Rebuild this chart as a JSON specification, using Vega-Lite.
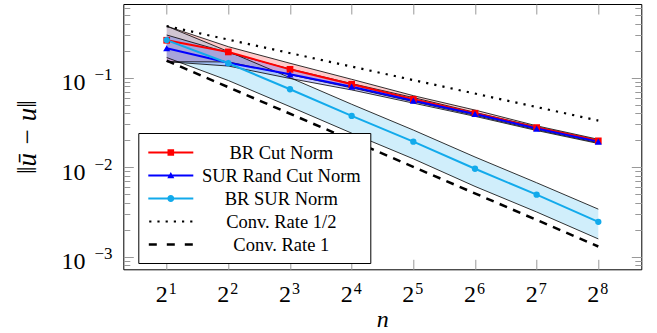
{
  "$schema": "https://vega.github.io/schema/vega-lite/v6.json",
  "width": 518,
  "height": 265.3,
  "autosize": "none",
  "padding": {"left": 123.3, "top": 4, "right": 15.7, "bottom": 63.7},
  "background": "white",
  "config": {"view": {"stroke": "black", "strokeWidth": 1}},
  "datasets": {
    "main": [
      {"s": "BR Cut Norm", "n": 2, "v": 0.262, "lo": 0.151, "hi": 0.377},
      {"s": "BR Cut Norm", "n": 4, "v": 0.194, "lo": 0.150, "hi": 0.222},
      {"s": "BR Cut Norm", "n": 8, "v": 0.124, "lo": 0.108, "hi": 0.145},
      {"s": "BR Cut Norm", "n": 16, "v": 0.0844, "lo": 0.077, "hi": 0.096},
      {"s": "BR Cut Norm", "n": 32, "v": 0.0574, "lo": 0.054, "hi": 0.063},
      {"s": "BR Cut Norm", "n": 64, "v": 0.0401, "lo": 0.038, "hi": 0.0435},
      {"s": "BR Cut Norm", "n": 128, "v": 0.0277, "lo": 0.0263, "hi": 0.029},
      {"s": "BR Cut Norm", "n": 256, "v": 0.0197, "lo": 0.0188, "hi": 0.0205},
      {"s": "SUR Rand Cut Norm", "n": 2, "v": 0.213, "lo": 0.151, "hi": 0.30},
      {"s": "SUR Rand Cut Norm", "n": 4, "v": 0.147, "lo": 0.135, "hi": 0.19},
      {"s": "SUR Rand Cut Norm", "n": 8, "v": 0.109, "lo": 0.098, "hi": 0.125},
      {"s": "SUR Rand Cut Norm", "n": 16, "v": 0.0794, "lo": 0.073, "hi": 0.086},
      {"s": "SUR Rand Cut Norm", "n": 32, "v": 0.0554, "lo": 0.052, "hi": 0.060},
      {"s": "SUR Rand Cut Norm", "n": 64, "v": 0.0393, "lo": 0.037, "hi": 0.041},
      {"s": "SUR Rand Cut Norm", "n": 128, "v": 0.0270, "lo": 0.0257, "hi": 0.0282},
      {"s": "SUR Rand Cut Norm", "n": 256, "v": 0.0193, "lo": 0.0184, "hi": 0.0200},
      {"s": "BR SUR Norm", "n": 2, "v": 0.263, "lo": 0.168, "hi": 0.377},
      {"s": "BR SUR Norm", "n": 4, "v": 0.145, "lo": 0.093, "hi": 0.196},
      {"s": "BR SUR Norm", "n": 8, "v": 0.0743, "lo": 0.0475, "hi": 0.100},
      {"s": "BR SUR Norm", "n": 16, "v": 0.0374, "lo": 0.024, "hi": 0.0505},
      {"s": "BR SUR Norm", "n": 32, "v": 0.0193, "lo": 0.0124, "hi": 0.026},
      {"s": "BR SUR Norm", "n": 64, "v": 0.0096, "lo": 0.0061, "hi": 0.013},
      {"s": "BR SUR Norm", "n": 128, "v": 0.00493, "lo": 0.00316, "hi": 0.0067},
      {"s": "BR SUR Norm", "n": 256, "v": 0.00245, "lo": 0.00158, "hi": 0.0034}
    ],
    "rates": [
      {"r": "half", "n": 2, "v": 0.377},
      {"r": "half", "n": 256, "v": 0.0332},
      {"r": "one", "n": 2, "v": 0.155},
      {"r": "one", "n": 256, "v": 0.0013}
    ],
    "leg": [
      {"s": "BR Cut Norm"},
      {"s": "SUR Rand Cut Norm"},
      {"s": "BR SUR Norm"},
      {"s": "Conv. Rate 1/2"},
      {"s": "Conv. Rate 1"}
    ]
  },
  "data": {"name": "main"},
  "resolve": {"axis": {"x": "independent", "y": "independent"}},
  "layer": [
    {
      "mark": {"type": "area", "fillOpacity": 0.2},
      "encoding": {
        "x": {
          "field": "n", "type": "quantitative",
          "scale": {"type": "log", "base": 2, "domain": [1.2279, 415.1], "nice": false, "zero": false},
          "axis": {
            "orient": "bottom",
            "values": [2, 4, 8, 16, 32, 64, 128, 256],
            "labelExpr": "'2'",
            "domain": false, "grid": false,
            "tickSize": -10, "tickColor": "#999999", "tickWidth": 1,
            "labelFont": "Liberation Serif", "labelFontSize": 24, "labelColor": "black",
            "labelAlign": "right", "labelOffset": 0.5,
            "labelBaseline": "alphabetic", "labelPadding": 42.4, "labelOverlap": false, "labelFlush": false,
            "title": "n", "titleFont": "Liberation Serif", "titleFontSize": 24, "titleFontStyle": "italic",
            "titleFontWeight": "normal", "titleColor": "black", "titleBaseline": "alphabetic", "titleY": 57
          }
        },
        "y": {
          "field": "lo", "type": "quantitative",
          "scale": {"type": "log", "domain": [0.000723, 0.666], "nice": false, "zero": false},
          "axis": {
            "orient": "left",
            "values": [0.0008, 0.0009, 0.001, 0.002, 0.003, 0.004, 0.005, 0.006, 0.007, 0.008, 0.009, 0.01, 0.02, 0.03, 0.04, 0.05, 0.06, 0.07, 0.08, 0.09, 0.1, 0.2, 0.3, 0.4, 0.5, 0.6],
            "labelExpr": "abs(log(datum.value)/LN10 - round(log(datum.value)/LN10)) < 0.001 ? '10' : ''",
            "domain": false, "grid": false,
            "tickSize": {"condition": {"test": "abs(log(datum.value)/LN10 - round(log(datum.value)/LN10)) < 0.001", "value": -10}, "value": -6.5},
            "tickColor": "#999999", "tickWidth": 1,
            "labelFont": "Liberation Serif", "labelFontSize": 24, "labelColor": "black", "labelAlign": "right",
            "labelBaseline": "alphabetic", "labelOffset": 12.3, "labelPadding": 48.3, "labelOverlap": false, "labelFlush": false,
            "title": "‖ū − u‖", "titleFont": "Liberation Serif", "titleFontSize": 27, "titleFontStyle": "italic",
            "titleFontWeight": "normal", "titleColor": "black", "titleX": -96, "titleBaseline": "middle", "titleAngle": -90
          }
        },
        "y2": {"field": "hi"},
        "fill": {
          "field": "s", "type": "nominal",
          "scale": {"domain": ["BR Cut Norm", "SUR Rand Cut Norm", "BR SUR Norm"], "range": ["#ff0000", "#0000ff", "#12aaeb"]},
          "legend": null
        }
      }
    },
    {
      "mark": {"type": "line", "color": "black", "strokeWidth": 0.8},
      "encoding": {
        "x": {
          "field": "n", "type": "quantitative",
          "axis": {
            "orient": "top", "values": [2, 4, 8, 16, 32, 64, 128, 256], "labels": false,
            "domain": false, "grid": false, "tickSize": -10, "tickColor": "#999999", "tickWidth": 1, "title": null
          }
        },
        "y": {
          "field": "lo", "type": "quantitative",
          "axis": {
            "orient": "right",
            "values": [0.0008, 0.0009, 0.001, 0.002, 0.003, 0.004, 0.005, 0.006, 0.007, 0.008, 0.009, 0.01, 0.02, 0.03, 0.04, 0.05, 0.06, 0.07, 0.08, 0.09, 0.1, 0.2, 0.3, 0.4, 0.5, 0.6],
            "labels": false, "domain": false, "grid": false,
            "tickSize": {"condition": {"test": "abs(log(datum.value)/LN10 - round(log(datum.value)/LN10)) < 0.001", "value": -10}, "value": -6.5},
            "tickColor": "#999999", "tickWidth": 1, "title": null
          }
        },
        "detail": {"field": "s"}
      }
    },
    {
      "mark": {"type": "line", "color": "black", "strokeWidth": 0.8},
      "encoding": {
        "x": {
          "field": "n", "type": "quantitative",
          "axis": {
            "orient": "bottom", "values": [2, 4, 8, 16, 32, 64, 128, 256],
            "labelExpr": "'' + round(log(datum.value)/LN2)",
            "domain": false, "grid": false, "ticks": false, "tickSize": 0, "title": null,
            "labelFont": "Liberation Serif", "labelFontSize": 16, "labelColor": "black",
            "labelAlign": "left", "labelOffset": 1.5, "labelBaseline": "alphabetic", "labelPadding": 23.7,
            "labelOverlap": false, "labelFlush": false
          }
        },
        "y": {
          "field": "hi", "type": "quantitative",
          "axis": {
            "orient": "left", "values": [0.001, 0.01, 0.1],
            "labelExpr": "'−' + round(-log(datum.value)/LN10)",
            "domain": false, "grid": false, "ticks": false, "tickSize": 0, "title": null,
            "labelFont": "Liberation Serif", "labelFontSize": 17, "labelColor": "black",
            "labelAlign": "right", "labelOffset": 2.3, "labelBaseline": "alphabetic", "labelPadding": 11.3,
            "labelOverlap": false, "labelFlush": false
          }
        },
        "detail": {"field": "s"}
      }
    },
    {
      "data": {"name": "rates"},
      "transform": [{"filter": "datum.r == 'half'"}],
      "mark": {"type": "line", "color": "black", "strokeWidth": 2.2, "strokeDash": [2.2, 6.1], "strokeCap": "butt"},
      "encoding": {
        "x": {"field": "n", "type": "quantitative", "axis": null},
        "y": {"field": "v", "type": "quantitative", "axis": null}
      }
    },
    {
      "data": {"name": "rates"},
      "transform": [{"filter": "datum.r == 'one'"}],
      "mark": {"type": "line", "color": "black", "strokeWidth": 2.5, "strokeDash": [8, 6.5], "strokeCap": "butt"},
      "encoding": {
        "x": {"field": "n", "type": "quantitative", "axis": null},
        "y": {"field": "v", "type": "quantitative", "axis": null}
      }
    },
    {
      "mark": {"type": "line", "strokeWidth": 2},
      "encoding": {
        "x": {"field": "n", "type": "quantitative", "axis": null},
        "y": {"field": "v", "type": "quantitative", "axis": null},
        "stroke": {
          "field": "s", "type": "nominal",
          "scale": {"domain": ["BR Cut Norm", "SUR Rand Cut Norm", "BR SUR Norm"], "range": ["#ff0000", "#0000ff", "#12aaeb"]},
          "legend": null
        }
      }
    },
    {
      "transform": [{"filter": "datum.s == 'BR Cut Norm'"}],
      "mark": {"type": "point", "filled": true, "shape": "square", "size": 45, "color": "#ff0000", "opacity": 1},
      "encoding": {
        "x": {"field": "n", "type": "quantitative", "axis": null},
        "y": {"field": "v", "type": "quantitative", "axis": null}
      }
    },
    {
      "transform": [{"filter": "datum.s == 'SUR Rand Cut Norm'"}],
      "mark": {"type": "point", "filled": true, "shape": "triangle-up", "size": 50, "color": "#0000ff", "opacity": 1},
      "encoding": {
        "x": {"field": "n", "type": "quantitative", "axis": null},
        "y": {"field": "v", "type": "quantitative", "axis": null}
      }
    },
    {
      "transform": [{"filter": "datum.s == 'BR SUR Norm'"}],
      "mark": {"type": "point", "filled": true, "shape": "circle", "size": 40, "color": "#12aaeb", "opacity": 1},
      "encoding": {
        "x": {"field": "n", "type": "quantitative", "axis": null},
        "y": {"field": "v", "type": "quantitative", "axis": null}
      }
    },
    {
      "data": {"name": "leg"},
      "transform": [{"filter": "false"}],
      "mark": {"type": "point", "filled": true, "opacity": 1},
      "encoding": {
        "shape": {
          "field": "s", "type": "nominal",
          "scale": {
            "domain": ["BR Cut Norm", "SUR Rand Cut Norm", "BR SUR Norm", "Conv. Rate 1/2", "Conv. Rate 1"],
            "range": [
              "M-2.143,-0.095H2.143V0.095H-2.143ZM-0.314,-0.314H0.314V0.314H-0.314Z",
              "M-2.143,-0.095H2.143V0.095H-2.143ZM0,-0.333L0.333,0.267L-0.333,0.267Z",
              "M-2.143,-0.095H2.143V0.095H-2.143ZM-0.333,0A0.333,0.333,0,1,1,0.333,0A0.333,0.333,0,1,1,-0.333,0Z",
              "M-2.057,-0.105h0.21v0.21h-0.21ZM-1.276,-0.105h0.21v0.21h-0.21ZM-0.495,-0.105h0.21v0.21h-0.21ZM0.285,-0.105h0.21v0.21h-0.21ZM1.066,-0.105h0.21v0.21h-0.21ZM1.847,-0.105h0.21v0.21h-0.21Z",
              "M-2.095,-0.119H-1.333V0.119H-2.095ZM-0.381,-0.119H0.381V0.119H-0.381ZM1.333,-0.119H2.095V0.119H1.333Z"
            ]
          },
          "legend": {
            "orient": "none", "legendX": 15, "legendY": 129, "title": null,
            "padding": 9, "strokeColor": "black", "fillColor": "white",
            "symbolSize": 441, "symbolStrokeWidth": 0, "symbolOffset": 13,
            "labelFont": "Liberation Serif", "labelFontSize": 18.5, "labelColor": "black",
            "labelAlign": "center", "labelOffset": 100, "labelLimit": 400, "rowPadding": 3
          }
        },
        "color": {
          "field": "s", "type": "nominal",
          "scale": {
            "domain": ["BR Cut Norm", "SUR Rand Cut Norm", "BR SUR Norm", "Conv. Rate 1/2", "Conv. Rate 1"],
            "range": ["#ff0000", "#0000ff", "#12aaeb", "#000000", "#000000"]
          },
          "legend": {
            "orient": "none", "legendX": 15, "legendY": 129, "title": null,
            "padding": 9, "strokeColor": "black", "fillColor": "white",
            "symbolSize": 441, "symbolStrokeWidth": 0, "symbolOffset": 13,
            "labelFont": "Liberation Serif", "labelFontSize": 18.5, "labelColor": "black",
            "labelAlign": "center", "labelOffset": 100, "labelLimit": 400, "rowPadding": 3
          }
        }
      }
    }
  ]
}
